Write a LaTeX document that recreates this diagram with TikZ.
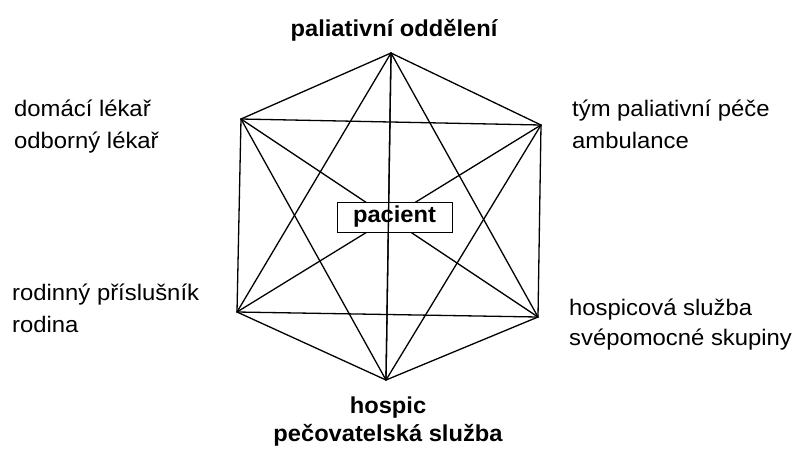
\documentclass[tikz,border=0pt]{standalone}
\usepackage{fontspec}
\setmainfont{Liberation Sans}[FakeStretch=1.03]
\newfontfamily\popisfont{Liberation Sans}[FakeStretch=1.06]
\usetikzlibrary{positioning}
\tikzset{
  spoj/.style={line width=1.3pt, line join=round, line cap=round},
  popis/.style={font=\popisfont\fontsize{22.5}{32}\selectfont, align=left, anchor=base west, inner sep=0pt},
  hlava/.style={font=\bfseries\fontsize{23}{28}\selectfont, align=center, anchor=base, inner sep=0pt},
}
\begin{document}
\begin{tikzpicture}[x=1pt,y=-1pt]
  \useasboundingbox (0,0) rectangle (795,448);
  % vrcholy sestiuhelniku (v1 nahore, dal po smeru hodin)
  \coordinate (v1) at (391,53);
  \coordinate (v2) at (541,125);
  \coordinate (v3) at (538,317);
  \coordinate (v4) at (386,380);
  \coordinate (v5) at (237,312);
  \coordinate (v6) at (241,119);
  % kazdy s kazdym
  \foreach \i in {1,...,5} {
    \pgfmathtruncatemacro{\k}{\i+1}
    \foreach \j in {\k,...,6}
      \draw[spoj] (v\i) -- (v\j);
  }
  % pacient uprostred, svisla spojnice jde pres nej
  \node[draw, fill=white, line width=0.9pt, font=\bfseries\fontsize{23}{28}\selectfont,
        minimum width=115pt, minimum height=30pt, inner sep=0pt] (pacient) at (394.5,217) {pacient};
  \draw[spoj] (v1) -- (v4);
  % popisky (base = uroven posledniho radku)
  \node[hlava] (oddeleni) at (394,36) {paliativní oddělení};
  \node[popis] (lekar) at (14,148) {domácí lékař\\odborný lékař};
  \node[popis] (tym) at (572,148) {tým paliativní péče\\ambulance};
  \node[popis] (rodina) at (12,332) {rodinný příslušník\\rodina};
  \node[popis, font=\popisfont\fontsize{22.5}{30}\selectfont] (sluzba) at (569,345) {hospicová služba\\svépomocné skupiny};
  \node[hlava] (hospic) at (388,441) {hospic\\pečovatelská služba};
\end{tikzpicture}
\end{document}
